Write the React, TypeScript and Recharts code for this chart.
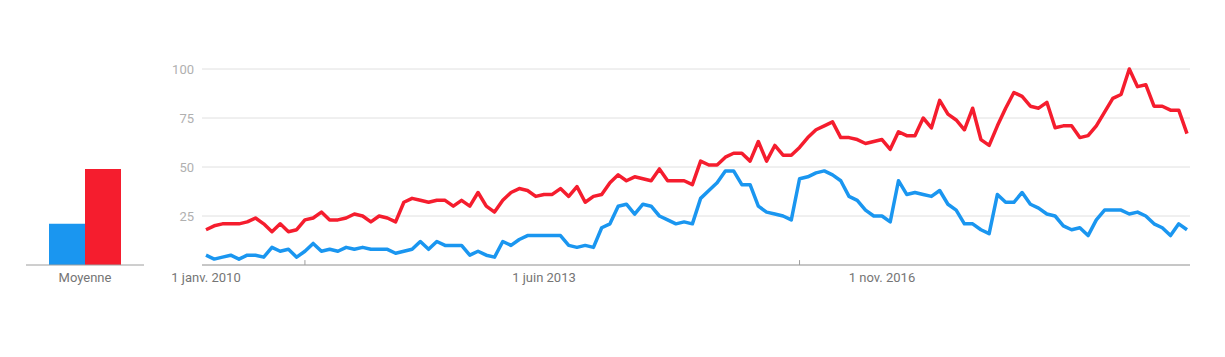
import { Bar, BarChart, CartesianGrid, Line, LineChart, ReferenceLine, XAxis, YAxis } from 'recharts';

const BLUE = '#1a96f0';
const RED = '#f51d2e';

const monthNames = ['janv.', 'févr.', 'mars', 'avr.', 'mai', 'juin', 'juil.', 'août', 'sept.', 'oct.', 'nov.', 'déc.'];
const startYear = 2010;

const blueValues = [
  5, 3, 4, 5, 3, 5, 5, 4, 9, 7, 8, 4, 7, 11, 7, 8, 7, 9, 8, 9,
  8, 8, 8, 6, 7, 8, 12, 8, 12, 10, 10, 10, 5, 7, 5, 4, 12, 10, 13, 15,
  15, 15, 15, 15, 10, 9, 10, 9, 19, 21, 30, 31, 26, 31, 30, 25, 23, 21, 22, 21,
  34, 38, 42, 48, 48, 41, 41, 30, 27, 26, 25, 23, 44, 45, 47, 48, 46, 43, 35, 33,
  28, 25, 25, 22, 43, 36, 37, 36, 35, 38, 31, 28, 21, 21, 18, 16, 36, 32, 32, 37,
  31, 29, 26, 25, 20, 18, 19, 15, 23, 28, 28, 28, 26, 27, 25, 21, 19, 15, 21, 18,
];

const redValues = [
  18, 20, 21, 21, 21, 22, 24, 21, 17, 21, 17, 18, 23, 24, 27, 23, 23, 24, 26, 25,
  22, 25, 24, 22, 32, 34, 33, 32, 33, 33, 30, 33, 30, 37, 30, 27, 33, 37, 39, 38,
  35, 36, 36, 39, 35, 40, 32, 35, 36, 42, 46, 43, 45, 44, 43, 49, 43, 43, 43, 41,
  53, 51, 51, 55, 57, 57, 53, 63, 53, 61, 56, 56, 60, 65, 69, 71, 73, 65, 65, 64,
  62, 63, 64, 59, 68, 66, 66, 75, 70, 84, 77, 74, 69, 80, 64, 61, 71, 80, 88, 86,
  81, 80, 83, 70, 71, 71, 65, 66, 71, 78, 85, 87, 100, 91, 92, 81, 81, 79, 79, 67,
];

const averageLabel = 'Moyenne';
const averageBlue = 21;
const averageRed = 49;

const labeledTicks = ['1 janv. 2010', '1 juin 2013', '1 nov. 2016'];
const markTicks = ['1 janv. 2011', '1 janv. 2016'];
const yTicks = [25, 50, 75, 100];

const dates = blueValues.map((_, i) => {
  const m = i % 12;
  const y = startYear + Math.floor(i / 12);
  return `1 ${monthNames[m]} ${y}`;
});

const rows = dates.map((date, i) => ({ date, blue: blueValues[i], red: redValues[i] }));
const averages = [{ name: averageLabel, blue: averageBlue, red: averageRed }];

const font = 'Roboto, Arial, sans-serif';

export default function App() {
  return (
    <div style={{ position: 'absolute', left: 0, top: 0, width: 1225, height: 357, background: '#fff', fontFamily: font }}>
      <div style={{ position: 'absolute', left: 0, top: 0 }}>
        <BarChart width={170} height={357} data={averages} margin={{ top: 69, right: 26, bottom: 62, left: 26 }} barGap={0} barSize={36}>
          <YAxis hide domain={[0, 100]} />
          <XAxis
            dataKey="name"
            height={30}
            tickLine={false}
            axisLine={{ stroke: '#9e9e9e' }}
            tick={{ fill: '#757575', fontSize: 13, fontFamily: font }}
          />
          <Bar dataKey="blue" fill={BLUE} isAnimationActive={false} />
          <Bar dataKey="red" fill={RED} isAnimationActive={false} />
        </BarChart>
      </div>
      <div style={{ position: 'absolute', left: 150, top: 0 }}>
        <LineChart width={1075} height={357} data={rows} margin={{ top: 69, right: 35, bottom: 62, left: 12 }}>
          <CartesianGrid vertical={false} stroke="#e0e0e0" />
          <YAxis
            width={40}
            domain={[0, 100]}
            ticks={yTicks}
            axisLine={false}
            tickLine={false}
            tick={{ fill: '#b0b0b0', fontSize: 13, fontFamily: font }}
          />
          <XAxis
            dataKey="date"
            height={30}
            ticks={labeledTicks}
            interval={0}
            padding={{ left: 4, right: 3 }}
            tickLine={false}
            axisLine={{ stroke: '#9e9e9e' }}
            tick={{ fill: '#757575', fontSize: 13, fontFamily: font }}
          />
          {markTicks.map((d) => (
            <ReferenceLine
              key={d}
              segment={[{ x: d, y: 0 }, { x: d, y: 2.5 }]}
              stroke="#9e9e9e"
              strokeWidth={1}
            />
          ))}
          <Line type="linear" dataKey="blue" stroke={BLUE} strokeWidth={3.5} dot={false} strokeLinejoin="round" isAnimationActive={false} />
          <Line type="linear" dataKey="red" stroke={RED} strokeWidth={3.5} dot={false} strokeLinejoin="round" isAnimationActive={false} />
        </LineChart>
      </div>
    </div>
  );
}
